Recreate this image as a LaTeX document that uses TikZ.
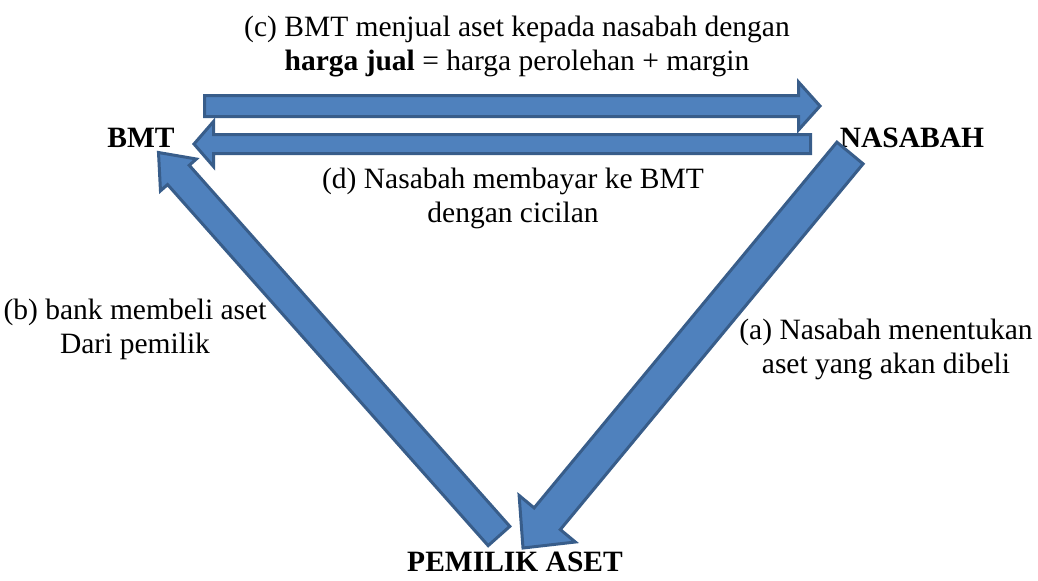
\documentclass[tikz,border=0pt]{standalone}
\usepackage{fontspec}
\setmainfont{Liberation Serif}
\usepackage{tikz}
\usetikzlibrary{calc}
\definecolor{arrowfill}{RGB}{79,129,189}
\definecolor{arrowdraw}{RGB}{56,93,138}

% block arrow: from, to, shaft half width, head half width, head length
\newcommand{\blockarrow}[5]{%
  \path ($(#2)!#5!(#1)$) coordinate (ba-base);
  \draw[bigarrow]
    ($(#1)!#3!90:(#2)$) -- ($(ba-base)!#3!-90:(#1)$)
    -- ($(ba-base)!#4!-90:(#1)$) -- (#2)
    -- ($(ba-base)!#4!90:(#1)$) -- ($(ba-base)!#3!90:(#1)$)
    -- ($(#1)!#3!-90:(#2)$) -- cycle;}

\begin{document}
\begin{tikzpicture}[
  x=0.5pt, y=-0.5pt,
  bigarrow/.style={
    fill=arrowfill, draw=arrowdraw,
    line width=1.5pt, line join=miter
  },
  lbl/.style={
    inner sep=0pt, align=center, anchor=base,
    font=\fontsize{14.75}{17}\selectfont
  },
  party/.style={lbl, font=\fontsize{14.75}{17}\selectfont\bfseries}
]
\useasboundingbox (0,0) rectangle (1038,580);

% parties
\node[party] (bmt)     at (141,147) {BMT};
\node[party] (nasabah) at (912,147) {NASABAH};
\node[party] (pemilik) at (515,571) {PEMILIK ASET};

% arrow ends
\coordinate (cS) at (204.5,106);  \coordinate (cE) at (820,106);
\coordinate (dS) at (810.5,144);  \coordinate (dE) at (194,144);
\coordinate (aS) at (850,153);    \coordinate (aE) at (523,548);
\coordinate (bS) at (499,536);    \coordinate (bE) at (158.5,152.5);

\foreach \from/\to/\w/\h/\l in {cS/cE/5.25pt/12pt/10.75pt,
                               dS/dE/4.75pt/11.25pt/9.75pt,
                               aS/aE/8.5pt/18.25pt/19pt,
                               bS/bE/7.25pt/12pt/15pt}
  \blockarrow{\from}{\to}{\w}{\h}{\l};

% step labels
\node[lbl] (jual) at (517,70)
  {(c) BMT menjual aset kepada nasabah dengan\\
   \textbf{harga jual} = harga perolehan + margin};
\node[lbl] (bayar) at (513,222)
  {(d) Nasabah membayar ke BMT\\ dengan cicilan};
\node[lbl] (beli) at (135,353)
  {(b) bank membeli aset\\ Dari pemilik};
\node[lbl] (tentu) at (886,373)
  {(a) Nasabah menentukan\\ aset yang akan dibeli};
\end{tikzpicture}
\end{document}
